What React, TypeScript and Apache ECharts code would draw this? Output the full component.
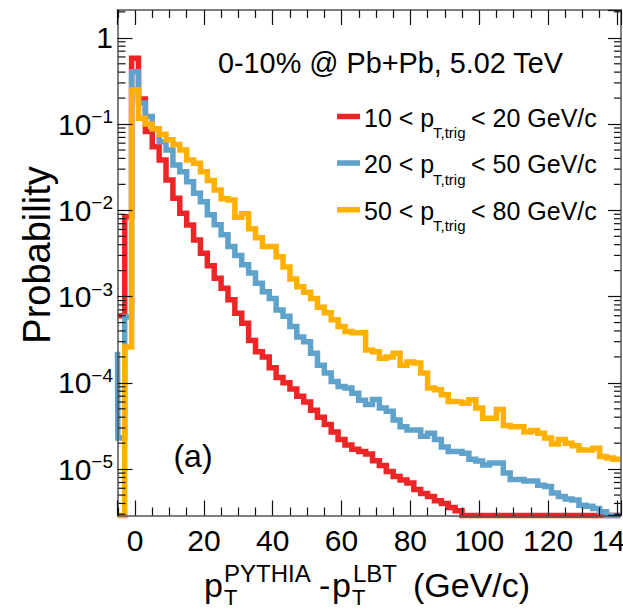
import { useEffect, useRef } from "react";
import * as echarts from "echarts";

const FONT = '"Liberation Sans", Arial, Helvetica, sans-serif';

// axis ranges
const X_MIN = -5.1;
const X_MAX = 141.2;
const Y_MIN = 2.9e-6;
const Y_MAX = 2.1;

// histogram binning: first bin [-5,-3], width 2 GeV/c, centres -4, -2, 0, ..., 140
const BIN_LOW_EDGE = -5;
const BIN_WIDTH = 2;

const seriesLabels = ["10 < 20", "20 < 50", "50 < 80"];
const trigLow = ["10", "20", "50"];
const trigHigh = ["20", "50", "80"];
const colors = ["#ee2526", "#5fa2cb", "#ffb000"];

// probability per bin (0 = empty bin)
const redValues = [
  6e-4, 8.4e-3, 0.578, 0.195, 0.082, 0.0547, 0.0384, 0.0225, 0.0138, 0.00925,
  0.00677, 0.00454, 0.00318, 0.00228, 0.00163, 0.00125, 0.00092, 6.4e-4, 4.9e-4, 3.1e-4,
  2.3e-4, 2.0e-4, 1.5e-4, 1.15e-4, 1.0e-4, 8.5e-5, 7.0e-5, 6.0e-5, 4.8e-5, 4.0e-5,
  3.3e-5, 2.7e-5, 2.2e-5, 1.9e-5, 1.7e-5, 1.6e-5, 1.5e-5, 1.25e-5, 1.1e-5, 9.4e-6,
  8.2e-6, 7.5e-6, 6.9e-6, 5.8e-6, 5.2e-6, 4.8e-6, 4.3e-6, 4.0e-6, 3.6e-6, 3.3e-6,
  0, 0, 0, 0, 0, 0, 0, 0, 0, 0,
  0, 0, 0, 0, 0, 0, 0, 0, 0, 0,
  0, 0, 0,
];
const blueValues = [
  2.3e-5, 5.8e-4, 0.405, 0.175, 0.122, 0.088, 0.0625, 0.05, 0.0336, 0.028,
  0.0215, 0.0158, 0.0126, 0.0089, 0.0068, 0.0052, 0.0038, 0.003, 0.00234, 0.00188,
  0.00143, 0.00114, 0.00095, 7.0e-4, 5.9e-4, 4.5e-4, 3.4e-4, 3.0e-4, 2.2e-4, 1.6e-4,
  1.3e-4, 1.04e-4, 9.1e-5, 8.7e-5, 7.6e-5, 6.3e-5, 5.6e-5, 6.4e-5, 5.1e-5, 4.7e-5,
  3.7e-5, 3.1e-5, 2.85e-5, 2.85e-5, 2.4e-5, 2.6e-5, 2.2e-5, 1.8e-5, 1.6e-5, 1.6e-5,
  1.53e-5, 1.3e-5, 1.24e-5, 1.12e-5, 1.18e-5, 1.18e-5, 9.0e-6, 7.6e-6, 7.6e-6, 7.3e-6,
  7.3e-6, 6.5e-6, 6.3e-6, 5.3e-6, 4.8e-6, 4.5e-6, 4.4e-6, 3.8e-6, 3.7e-6, 3.5e-6,
  3.2e-6, 0, 0,
];
const orangeValues = [
  0, 2.6e-4, 0.25, 0.117, 0.1, 0.088, 0.076, 0.066, 0.058, 0.05,
  0.0384, 0.0351, 0.028, 0.0222, 0.0172, 0.0136, 0.0132, 0.0083, 0.0091, 0.0061,
  0.0048, 0.0038, 0.0038, 0.0029, 0.0022, 0.0016, 0.0013, 0.00112, 0.00095, 7.5e-4,
  6.5e-4, 5.4e-4, 4.5e-4, 3.95e-4, 3.8e-4, 3.8e-4, 2.4e-4, 2.3e-4, 1.93e-4, 2.0e-4,
  2.2e-4, 1.6e-4, 1.75e-4, 1.7e-4, 1.3e-4, 8.7e-5, 8.3e-5, 7.3e-5, 6.1e-5, 6.0e-5,
  5.8e-5, 6.35e-5, 5.1e-5, 3.9e-5, 3.9e-5, 4.9e-5, 3.2e-5, 3.1e-5, 3.1e-5, 2.7e-5,
  2.8e-5, 2.6e-5, 2.3e-5, 1.95e-5, 2.2e-5, 2.0e-5, 1.86e-5, 1.67e-5, 1.67e-5, 1.75e-5,
  1.4e-5, 1.35e-5, 1.3e-5,
];
// content of the bin just left of the visible range ([-7,-5])
const underflowValues = [6e-4, 2.3e-4, 0];

function stepData(values: number[], under: number): number[][] {
  const pts: number[][] = [[X_MIN, Math.max(under, Y_MIN)]];
  values.forEach((v, i) => pts.push([BIN_LOW_EDGE + i * BIN_WIDTH, Math.max(v, Y_MIN)]));
  pts.push([BIN_LOW_EDGE + values.length * BIN_WIDTH, Math.max(values[values.length - 1], Y_MIN)]);
  return pts;
}

// minor ticks of the log axis (2..9 x 10^n)
const logMinorTicks: number[] = [];
for (let e = -6; e <= 0; e++) {
  for (let k = 2; k <= 9; k++) {
    const v = k * Math.pow(10, e);
    if (v > Y_MIN && v < Y_MAX) logMinorTicks.push(v);
  }
}

function txt(text: string, x: number, y: number, size: number, extra: any = {}) {
  return {
    type: "text",
    x,
    y,
    rotation: extra.rotation || 0,
    scaleX: extra.scaleX || 1,
    z: 20,
    silent: true,
    style: {
      text,
      fill: "#000",
      font: `${size}px ${FONT}`,
      align: extra.align || "left",
      verticalAlign: "middle",
      textAlign: extra.align || "left",
      textVerticalAlign: "middle",
    },
  };
}

export default function App() {
  const ref = useRef<HTMLDivElement>(null);

  useEffect(() => {
    document.body.style.margin = "0";
    if (!ref.current) return;
    const chart = echarts.init(ref.current, undefined, { renderer: "svg" });

    const axisLineStyle = { color: "#555", width: 1.5 };
    const tickStyle = { color: "#111", width: 1.2 };

    const xCommon = {
      type: "value",
      min: X_MIN,
      max: X_MAX,
      minInterval: 20,
      maxInterval: 20,
      splitNumber: 7,
      splitLine: { show: false },
      axisLine: { show: true, onZero: false, lineStyle: axisLineStyle },
      axisTick: { show: true, inside: true, length: 15, lineStyle: tickStyle },
      minorTick: { show: true, splitNumber: 4, length: 8, lineStyle: tickStyle },
      z: 10,
    };
    const yCommon = {
      type: "log",
      logBase: 10,
      min: Y_MIN,
      max: Y_MAX,
      splitLine: { show: false },
      axisLine: { show: true, onZero: false, lineStyle: axisLineStyle },
      z: 10,
    };

    const legendChildren: any[] = [];
    const rowY = [117.5, 164, 210.8];
    for (let i = 0; i < 3; i++) {
      const y = rowY[i];
      legendChildren.push({
        type: "line",
        z: 20,
        shape: { x1: 337, y1: y - 1, x2: 360, y2: y - 1 },
        style: { stroke: colors[i], lineWidth: 5.5 },
      });
      legendChildren.push(txt(`${trigLow[i]} < p`, 364, y, 25));
      legendChildren.push(txt("T,trig", 433, y + 15, 15));
      legendChildren.push(txt(`< ${trigHigh[i]} GeV/c`, 471, y, 25));
    }

    const option: any = {
      animation: false,
      backgroundColor: "#fff",
      grid: {
        left: 117.5,
        right: 2,
        top: 10,
        bottom: 93.5,
        containLabel: false,
        outerBoundsMode: "none",
      },
      xAxis: [
        {
          ...xCommon,
          position: "bottom",
          axisLabel: {
            show: true,
            fontSize: 30,
            fontFamily: FONT,
            color: "#000",
            margin: 10,
            showMinLabel: false,
            showMaxLabel: false,
          },
        },
        {
          ...xCommon,
          position: "top",
          axisLabel: { show: false },
        },
      ],
      yAxis: [
        {
          ...yCommon,
          position: "left",
          axisTick: { show: true, inside: true, length: 15, lineStyle: tickStyle },
          axisLabel: {
            show: true,
            margin: 4.5,
            showMinLabel: false,
            showMaxLabel: false,
            formatter: (v: number) => {
              const l = Math.log10(v);
              const e = Math.round(l);
              if (Math.abs(l - e) > 1e-6) return "";
              if (e === 0) return "{a|1}";
              return `{a|10}{b|\u2212${-e}}`;
            },
            rich: {
              a: { fontSize: 30, fontFamily: FONT, lineHeight: 34, color: "#000" },
              b: { fontSize: 19, fontFamily: FONT, lineHeight: 19, verticalAlign: "top", color: "#000" },
            },
          },
        },
        {
          ...yCommon,
          position: "right",
          axisTick: { show: true, inside: true, length: 13, lineStyle: tickStyle },
          axisLabel: { show: false },
        },
      ],
      series: [
        ...[redValues, blueValues, orangeValues].map((vals, i) => ({
          type: "line",
          name: seriesLabels[i],
          xAxisIndex: 0,
          yAxisIndex: 0,
          step: "end",
          symbol: "none",
          showSymbol: false,
          clip: false,
          z: 2 + i,
          lineStyle: { color: colors[i], width: 5.5, join: "miter", cap: "butt" },
          itemStyle: { color: colors[i] },
          data: stepData(vals, underflowValues[i]),
          silent: true,
        })),
        {
          type: "custom",
          xAxisIndex: 0,
          yAxisIndex: 0,
          z: 10,
          silent: true,
          clip: false,
          data: logMinorTicks.map((v) => [X_MIN, v]),
          renderItem: (_params: any, api: any) => {
            const v = api.value(1);
            const pl = api.coord([X_MIN, v]);
            const pr = api.coord([X_MAX, v]);
            return {
              type: "group",
              children: [
                {
                  type: "line",
                  shape: { x1: pl[0], y1: pl[1], x2: pl[0] + 8, y2: pl[1] },
                  style: { stroke: "#111", lineWidth: 1.2 },
                },
                {
                  type: "line",
                  shape: { x1: pr[0], y1: pr[1], x2: pr[0] - 7, y2: pr[1] },
                  style: { stroke: "#111", lineWidth: 1.2 },
                },
              ],
            };
          },
        },
      ],
      graphic: [
        txt("0-10% @ Pb+Pb, 5.02 TeV", 218, 62.5, 28.8),
        ...legendChildren,
        txt("(a)", 193, 456, 32, { align: "center" }),
        txt("Probability", 37, 255, 38, { align: "center", rotation: Math.PI / 2 }),
        // x axis title: p_T^PYTHIA - p_T^LBT (GeV/c)
        txt("p", 204, 585, 34),
        txt("T", 224, 597, 22),
        txt("PYTHIA", 224, 573, 24),
        txt("-", 319, 585, 34),
        txt("p", 332, 585, 34),
        txt("T", 352, 597, 22),
        txt("LBT", 353, 573, 24),
        txt("(GeV/c)", 413, 585, 34),
      ],
    };

    chart.setOption(option);
    return () => chart.dispose();
  }, []);

  return (
    <div
      ref={ref}
      style={{ position: "absolute", left: 0, top: 0, width: 623, height: 609, background: "#fff" }}
    />
  );
}
